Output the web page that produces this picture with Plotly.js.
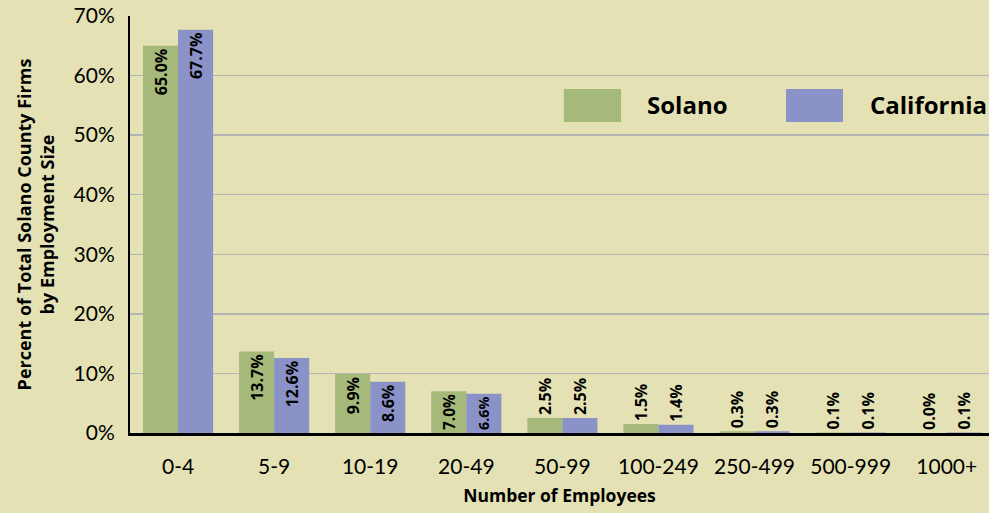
<!DOCTYPE html>
<html><head><meta charset="utf-8">
<script src="https://cdn.plot.ly/plotly-3.0.1.min.js"></script>
<style>html,body{margin:0;padding:0;background:#E4E2B4;}#chart{width:989px;height:513px;}</style>
</head><body><div id="chart"></div>
<script>
const categories = ["0-4","5-9","10-19","20-49","50-99","100-249","250-499","500-999","1000+"];
const solano = [65.0,13.7,9.9,7.0,2.5,1.5,0.3,0.1,0.0];
const california = [67.7,12.6,8.6,6.6,2.5,1.4,0.3,0.1,0.1];
const seriesNames = ["Solano","California"];
const yTicks = [0,10,20,30,40,50,60,70];

const green = "#A4B97A", blue = "#8B92C7", bg = "#E4E2B4";
const FONT = "Lato, 'DejaVu Sans', sans-serif";
const BFONT = "'Open Sans', 'DejaVu Sans', sans-serif";
function pos(v){ return v >= 5 ? "inside" : "outside"; }
function mk(name, vals, color){
  const f = {family:BFONT, size:16, color:"#000", weight:"bold"};
  return {
    type:"bar", name:name, x:categories, y:vals,
    marker:{color:color},
    text: vals.map(v=>v.toFixed(1)+"%"),
    textposition: vals.map(pos),
    insidetextanchor:"end",
    textangle:-90,
    constraintext:"inside",
    cliponaxis:false,
    textfont:f, insidetextfont:f, outsidetextfont:f,
    hoverinfo:"skip"
  };
}
const data = [mk(seriesNames[0], solano, green), mk(seriesNames[1], california, blue)];
const layout = {
  width:989, height:513,
  margin:{l:130, r:0, t:16, b:80, pad:0},
  paper_bgcolor:bg, plot_bgcolor:bg,
  showlegend:false,
  barmode:"group", bargap:0.27, bargroupgap:0,
  font:{family:FONT, color:"#000"},
  xaxis:{
    type:"category", range:[-0.5, 8.44],
    showgrid:false, zeroline:false,
    showline:true, linecolor:"#000", linewidth:2.5,
    ticks:"", ticklabelstandoff:13,
    tickfont:{family:FONT, size:21, color:"#000"},
    title:{text:"Number of Employees", font:{family:BFONT, size:17.5, color:"#000", weight:"bold"}, standoff:13}
  },
  yaxis:{
    range:[0,70], tickvals:yTicks, ticktext:yTicks.map(v=>v+"%"),
    showgrid:true, gridcolor:"#B4B4B4", gridwidth:1.5,
    zeroline:false, showline:true, linecolor:"#000", linewidth:2,
    ticks:"", ticklabelstandoff:9,
    tickfont:{family:FONT, size:21, color:"#000"},
    title:{text:"Percent of Total Solano County Firms<br>by Employment Size", font:{family:BFONT, size:18, color:"#000", weight:"bold"}, standoff:14}
  },
  shapes:[
    {type:"rect", xref:"paper", yref:"paper", x0:0.505, x1:0.5716, y0:0.746, y1:0.825, fillcolor:green, line:{width:0}},
    {type:"rect", xref:"paper", yref:"paper", x0:0.7637, x1:0.830, y0:0.746, y1:0.825, fillcolor:blue, line:{width:0}}
  ],
  annotations:[
    {xref:"paper", yref:"paper", x:0.5995, y:0.7866, xanchor:"left", yanchor:"middle", showarrow:false, text:seriesNames[0], font:{family:BFONT, size:24, color:"#000", weight:"bold"}},
    {xref:"paper", yref:"paper", x:0.859, y:0.7866, xanchor:"left", yanchor:"middle", showarrow:false, text:seriesNames[1], font:{family:BFONT, size:24, color:"#000", weight:"bold"}}
  ]
};
Plotly.newPlot("chart", data, layout, {displayModeBar:false, staticPlot:true});
</script></body></html>
